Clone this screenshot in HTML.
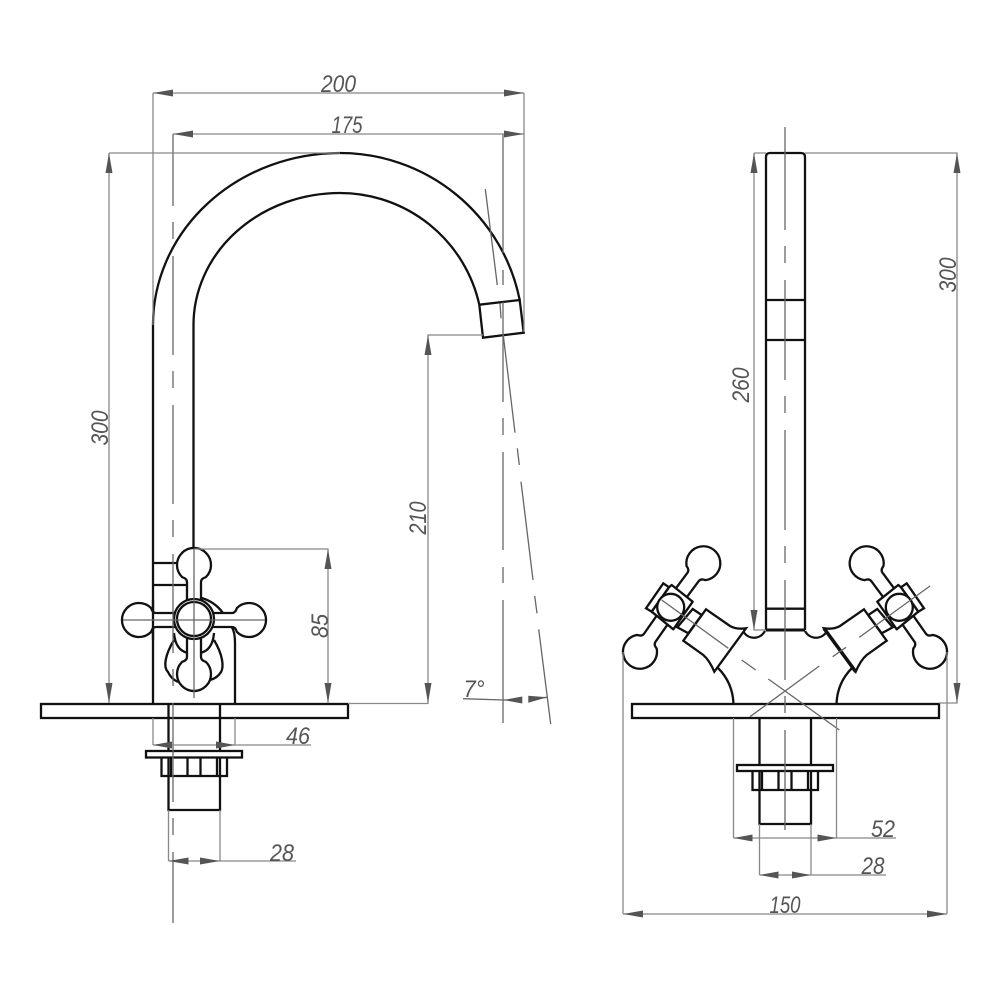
<!DOCTYPE html>
<html>
<head>
<meta charset="utf-8">
<style>
html,body{margin:0;padding:0;background:#fff}
svg{display:block}
.m{fill:none;stroke:#111;stroke-width:2.3}
.h{fill:#fff;stroke:#111;stroke-width:2.3}
.d{fill:none;stroke:#888;stroke-width:1.3}
.c{fill:none;stroke:#666;stroke-width:1.3}
.a{fill:#555;stroke:none}
text{font-family:"Liberation Sans",sans-serif;font-style:italic;font-size:24.500px;fill:#555;text-anchor:middle}
</style>
</head>
<body>
<svg width="1000" height="1000" viewBox="0 0 1000 1000" xmlns="http://www.w3.org/2000/svg">
<!-- LEFT VIEW: main outline -->
<path class="m" d="M153 704V325A187 172 0 0 1 340 153A183.300 183.300 0 0 1 519.700 300"/>
<path class="m" d="M193.500 548V325A146.500 132 0 0 1 340 193A142.700 142.700 0 0 1 479.300 304.700"/>
<path class="m" d="M479.300 304.700L519.700 300L523.700 332.700L483 337.700Z"/>
<path class="m" d="M153 563H177M153 585H187"/>
<path class="m" d="M235 704V643Q235 632 231.700 627M201.700 598Q215 602 222.700 612.700"/>
<path class="m" d="M174 640C165 655 163 667 168 672C171 678 174 680 178 682M214 640C223 655 224 667 221 672C218 677 214 679 210 680"/>
<path class="m" d="M174 633C175 645 180 651 187 652.700M214 633C213 645 208 651 201 652.700"/>
<!-- left knob -->
<g transform="translate(194,565)"><path class="h" d="M-7 35V17Q-7 13.500 -11.800 12.200A17 17 0 1 1 11.800 12.200Q7 13.500 7 17V35"/></g>
<g transform="translate(194,674) rotate(180)"><path class="h" d="M-7 36V17Q-7 13.500 -11.800 12.200A17 17 0 1 1 11.800 12.200Q7 13.500 7 17V36"/></g>
<g transform="translate(139,620) rotate(-90)"><path class="h" d="M-7 36V17Q-7 13.500 -11.800 12.200A17 17 0 1 1 11.800 12.200Q7 13.500 7 17V36"/></g>
<g transform="translate(249,620) rotate(90)"><path class="h" d="M-7 36V17Q-7 13.500 -11.800 12.200A17 17 0 1 1 11.800 12.200Q7 13.500 7 17V36"/></g>
<path class="m" d="M153 600V640"/>
<circle class="h" cx="194" cy="619" r="20"/>
<circle class="m" cx="194" cy="619" r="17"/>
<!-- left plate + stem -->
<rect class="h" x="41" y="704" width="307" height="14"/>
<path class="m" d="M168.500 704V810H220V704"/>
<rect class="h" x="146" y="751" width="96" height="6.500"/>
<path class="m" d="M161.500 757.500V776H227V757.500M171 757.500V776M187.500 757.500V776M200.500 757.500V776M217 757.500V776"/>

<!-- RIGHT VIEW: tube -->
<path class="m" d="M766 630V157Q766 153 770 153H801Q805 153 805 157V630"/>
<path class="m" d="M766 300H805M766 340H805M766 608.700H805"/>
<path d="M766 630H805" fill="none" stroke="#111" stroke-width="3"/>
<rect class="h" x="632" y="704" width="307" height="14"/>
<path class="m" d="M759.500 718V824H811V718"/>
<rect class="h" x="737" y="765" width="96" height="6"/>
<path class="m" d="M752.500 771V790H818V771M762 771V790M778.500 771V790M791.500 771V790M808 771V790"/>
<path class="m" d="M733.500 704C733 690 728 678 718 668M836.500 704C837 690 842 678 852 668"/>
<path class="m" d="M743 631C748 640 760 640 765 631M827 631C822 640 810 640 805 631"/>

<!-- left tap -->
<g>
<g transform="translate(703.300,563.300) rotate(36.700)"><path class="h" d="M-7 40V17Q-7 13.500 -11.800 12.200A17 17 0 1 1 11.800 12.200Q7 13.500 7 17V40"/></g>
<g transform="translate(640,651.700) rotate(-145)"><path class="h" d="M-7 40V17Q-7 13.500 -11.800 12.200A17 17 0 1 1 11.800 12.200Q7 13.500 7 17V40"/></g>
<path class="h" d="M706 609.300L730 626C735 629 741 629 746 628.300L714.300 671.700C711 664 708 659 703.300 655L683.300 640.700Z"/>
<path class="h" d="M692.700 609L701.700 615L688.300 633.300L677.300 627.300Z"/>
<path class="h" d="M646 608.300L663.300 583.300L669 587.300L651.700 611.700Z"/>
<path class="h" stroke-linejoin="round" d="M671.700 585L692.700 601.700L673.300 629.300L651.700 611.700L669 587.300Z"/>
<circle class="h" cx="670.700" cy="607.300" r="13.500"/>
</g>
<!-- right tap (mirror) -->
<g transform="translate(1570,0) scale(-1,1)">
<g transform="translate(703.300,563.300) rotate(36.700)"><path class="h" d="M-7 40V17Q-7 13.500 -11.800 12.200A17 17 0 1 1 11.800 12.200Q7 13.500 7 17V40"/></g>
<g transform="translate(640,651.700) rotate(-145)"><path class="h" d="M-7 40V17Q-7 13.500 -11.800 12.200A17 17 0 1 1 11.800 12.200Q7 13.500 7 17V40"/></g>
<path class="h" d="M706 609.300L730 626C735 629 741 629 746 628.300L714.300 671.700C711 664 708 659 703.300 655L683.300 640.700Z"/>
<path d="M746 628.300L714.300 671.700" fill="none" stroke="#111" stroke-width="3.500"/>
<path class="h" d="M692.700 609L701.700 615L688.300 633.300L677.300 627.300Z"/>
<path class="h" d="M646 608.300L663.300 583.300L669 587.300L651.700 611.700Z"/>
<path class="h" stroke-linejoin="round" d="M671.700 585L692.700 601.700L673.300 629.300L651.700 611.700L669 587.300Z"/>
<circle class="h" cx="670.700" cy="607.300" r="13.500"/>
</g>

<!-- axes -->
<path class="c" d="M173 134V923" stroke-dasharray="99 16 17 17" stroke-dashoffset="27"/>
<path class="c" d="M785 127V130"/>
<path class="c" d="M785 130V830" stroke-dasharray="100 16 17 17"/>
<path class="c" d="M503 134V253M503 270V285M503 302V402M503 418V435M503 452V550M503 567V583M503 600V723"/>
<path class="c" d="M194 549V698"/>
<path class="c" d="M123 620H265"/>
<path class="c" d="M485.300 189L497.300 285M500 303.300L501 318.300M503 333L515 432.700M517.300 448.300L519.300 465M521 481.700L533 580M534.700 596L537 613.300M538.700 629.300L550.700 724"/>
<path class="c" d="M661.700 600L728.300 648.300M741.700 660L755.700 670M768.300 679L839.300 730"/>
<path class="c" d="M930 586L859.300 637.300M846 647.300L832.700 656.700M819.300 666L750 716.700"/>

<!-- dimension lines -->
<path class="d" d="M153 93H524M153 93V325M524 93V332"/>
<path class="d" d="M173 134H524"/>
<path class="d" d="M109 153H340M109 153V703"/>
<path class="d" d="M194 549H328V703M348 703.500H428V335H483"/>
<path class="d" d="M153 718V745M235 718V745M153 745H311"/>
<path class="d" d="M168.500 810V861M220 810V861M168.500 861H296"/>
<path class="c" d="M463 698.700L503.300 700H522M529 699L547.300 697.300"/>
<path class="d" d="M805 153H957V703H939M754 153H766M754 153V630H766"/>
<path class="d" d="M733.500 718V838M836.500 718V838M733.500 838H896"/>
<path class="d" d="M759.500 824V875M811 824V875M759.500 875H886"/>
<path class="d" d="M623 652V914M947 652V914M623 914H947"/>

<!-- arrowheads -->
<g class="a">
<path d="M153 93l20-3.500v7zM524 93l-20-3.500v7z"/>
<path d="M173 134l20-3.500v7zM524 134l-20-3.500v7z"/>
<path d="M109 153l-3.500 20h7zM109 703l-3.500-20h7z"/>
<path d="M328 549l-3.500 20h7zM328 703l-3.500-20h7z"/>
<path d="M428 335l-3.500 20h7zM428 703l-3.500-20h7z"/>
<path d="M153 745l19-3.500v7zM235 745l-19-3.500v7z"/>
<path d="M168.500 861l20-3.500v7zM220 861l-20-3.500v7z"/>
<path d="M503.300 700l19-3.500v7zM547.300 697.300l-19-1.500v7z"/>
<path d="M957 153l-3.500 20h7zM957 703l-3.500-20h7z"/>
<path d="M754 153l-3.500 20h7zM754 630l-3.500-20h7z"/>
<path d="M733.500 838l19-3.500v7zM836.500 838l-19-3.500v7z"/>
<path d="M759.500 875l19-3.500v7zM811 875l-19-3.500v7z"/>
<path d="M623 914l20-3.500v7zM947 914l-20-3.500v7z"/>
</g>

<!-- labels -->
<text x="338.500" y="92" textLength="35" lengthAdjust="spacingAndGlyphs">200</text>
<text x="347" y="133" textLength="31" lengthAdjust="spacingAndGlyphs">175</text>
<text x="298" y="744" textLength="24" lengthAdjust="spacingAndGlyphs">46</text>
<text x="282" y="861" textLength="24" lengthAdjust="spacingAndGlyphs">28</text>
<text x="474" y="697" textLength="21" lengthAdjust="spacingAndGlyphs">7°</text>
<text x="883" y="837" textLength="24" lengthAdjust="spacingAndGlyphs">52</text>
<text x="873" y="874" textLength="23" lengthAdjust="spacingAndGlyphs">28</text>
<text x="785" y="913" textLength="31" lengthAdjust="spacingAndGlyphs">150</text>
<text transform="translate(108,428) rotate(-90)" textLength="35" lengthAdjust="spacingAndGlyphs">300</text>
<text transform="translate(328,626) rotate(-90)" textLength="24" lengthAdjust="spacingAndGlyphs">85</text>
<text transform="translate(426,518) rotate(-90)" textLength="33" lengthAdjust="spacingAndGlyphs">210</text>
<text transform="translate(749,385) rotate(-90)" textLength="35" lengthAdjust="spacingAndGlyphs">260</text>
<text transform="translate(956,275) rotate(-90)" textLength="35" lengthAdjust="spacingAndGlyphs">300</text>
</svg>
</body>
</html>
